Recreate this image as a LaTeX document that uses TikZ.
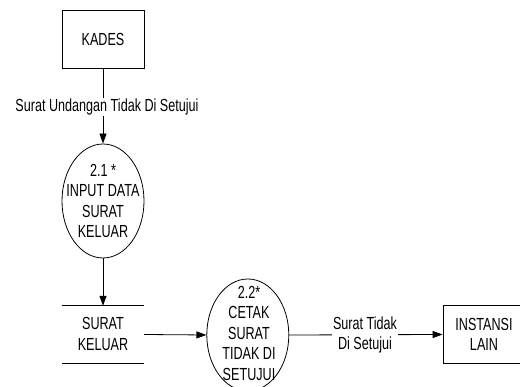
\documentclass[tikz,border=0pt]{standalone}
\usepackage{fontspec}
\setmainfont{Liberation Sans}[FakeStretch=0.72]
\usetikzlibrary{arrows.meta,shapes.geometric}
\begin{document}
\begin{tikzpicture}[x=1pt,y=-1pt,
  every node/.style={font=\fontsize{17.5}{20.5}\selectfont},
  ent/.style={draw, line width=0.8pt, minimum width=82pt, minimum height=58pt, inner sep=0pt},
  proc/.style={draw, ellipse, line width=0.8pt, minimum width=82pt, minimum height=114pt, inner sep=0pt},
  txt/.style={align=center, inner sep=0pt},
  lbl/.style={align=center, fill=white, inner sep=1pt},
  arr/.style={draw, line width=0.8pt, -{Triangle[length=10pt,width=7pt]}}]
\useasboundingbox (0,0) rectangle (520,387);
\clip (0,0) rectangle (520,387);
% entities
\node[ent] (kades) at (103,39) {KADES};
\node[ent] (inst) at (484,334.5) {};
\node[txt] (insttxt) at (484,334.5) {INSTANSI\\LAIN};
% process 2.1
\node[proc] (p1) at (103,201) {};
\node[txt] (p1txt) at (103,201) {2.1 *\\INPUT DATA\\SURAT\\KELUAR};
% data store
\node[minimum width=82pt, minimum height=57pt, inner sep=0pt] (store) at (103,334.5) {};
\node[txt] (storetxt) at (103,334) {SURAT\\KELUAR};
\draw[line width=0.8pt] (store.north west) -- (store.north east);
\draw[line width=0.8pt] (store.south west) -- (store.south east);
% process 2.2
\node[proc, minimum height=112pt] (p2) at (247.8,335) {};
\node[txt] (p2txt) at (249,333) {2.2*\\CETAK\\SURAT\\TIDAK DI\\SETUJUI};
% flows
\draw[arr] (kades.south) -- (p1.north);
\node[lbl] (l1) at (107,107) {Surat Undangan Tidak Di Setujui};
\draw[arr] (p1.south) -- (store.north);
\draw[arr] (store.east) -- (p2.west);
\draw[arr] (p2.east) -- (inst.west);
\node[lbl] (l2) at (365,335) {Surat Tidak\\Di Setujui};
\end{tikzpicture}
\end{document}
